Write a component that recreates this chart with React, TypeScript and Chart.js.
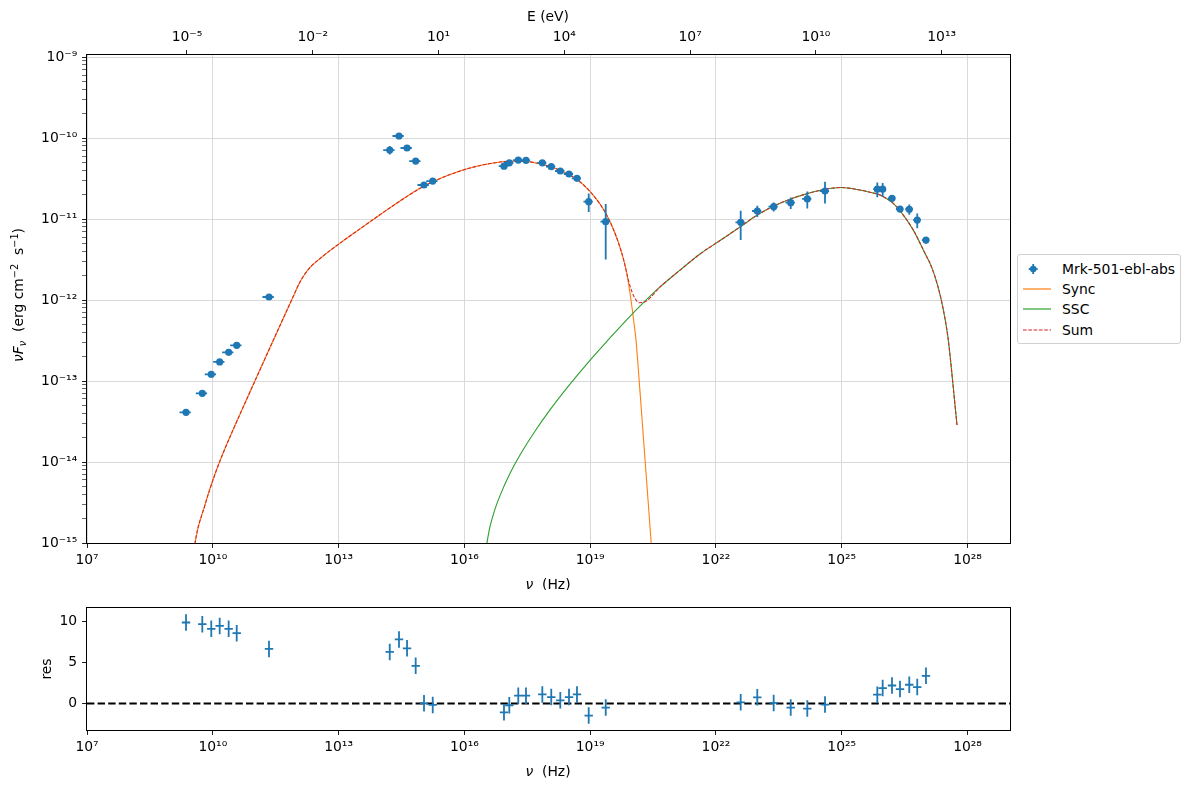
import React, { useEffect, useRef } from "react";
import { Chart, registerables } from "chart.js";
Chart.register(...registerables);

// ---------------- data ----------------
const H_EV = 4.135667696e-15; // eV s
const X_MIN = 1e7;
const X_MAX = 1.03e29;
const Y_MIN = 1e-15;
const Y_MAX = 1.06e-9;
const RES_MIN = -3.2;
const RES_MAX = 11.6;

const xTickValues = [1e7, 1e10, 1e13, 1e16, 1e19, 1e22, 1e25, 1e28];
const eTickValues = [1e-5, 1e-2, 1e1, 1e4, 1e7, 1e10, 1e13];
const yDecadeExps = [-15, -14, -13, -12, -11, -10, -9];
const yMinorMultipliers = [2, 3, 4, 5, 6, 7, 8, 9];
const resTickValues = [0, 5, 10];

const nuData = [
  2.3e9, 5.62e9, 9.2e9, 1.46e10, 2.39e10, 3.72e10, 2.19e11,
  1.66e14, 2.76e14, 4.29e14, 6.9e14, 1.09e15, 1.76e15,
  8.81e16, 1.18e17, 1.93e17, 2.95e17, 7.23e17, 1.18e18, 1.94e18, 3.13e18, 4.85e18, 9.23e18, 2.35e19,
  3.89e22, 9.68e22, 2.38e23, 6.07e23, 1.51e24, 3.99e24,
  7.05e25, 9.46e25, 1.58e26, 2.45e26, 4.08e26, 6.32e26, 1.02e27,
];
const fluxData = [
  4.11e-14, 7.05e-14, 1.21e-13, 1.72e-13, 2.26e-13, 2.76e-13, 1.09e-12,
  7.1e-11, 1.06e-10, 7.53e-11, 5.2e-11, 2.63e-11, 2.94e-11,
  4.5e-11, 4.95e-11, 5.35e-11, 5.3e-11, 4.95e-11, 4.43e-11, 3.92e-11, 3.6e-11, 3.18e-11, 1.64e-11, 9.27e-12,
  9.1e-12, 1.256e-11, 1.42e-11, 1.59e-11, 1.77e-11, 2.22e-11,
  2.34e-11, 2.34e-11, 1.8e-11, 1.33e-11, 1.32e-11, 9.7e-12, 5.5e-12,
];
const fluxErr = [
  8e-16, 1.4e-15, 2.4e-15, 3.4e-15, 4.5e-15, 5.5e-15, 2.2e-14,
  8.5e-12, 9e-12, 4e-12, 2.5e-12, 1e-12, 1e-12,
  1.8e-12, 2e-12, 2.1e-12, 2e-12, 1.5e-12, 1.3e-12, 1.2e-12, 1.1e-12, 1.3e-12, 4.2e-12, 6.1e-12,
  3.6e-12, 2e-12, 1.8e-12, 2.6e-12, 4.2e-12, 6.7e-12,
  4.8e-12, 4.5e-12, 1.5e-12, 1.2e-12, 1.9e-12, 2e-12, 5e-13,
];
const nuErr = [
  6.9e8, 1.69e9, 2.76e9, 4.38e9, 7.17e9, 1.12e10, 6.57e10,
  5e13, 8.3e13, 1.29e14, 2.07e14, 3.27e14, 5.28e14,
  2.2e16, 2.95e16, 4.8e16, 7.4e16, 1.8e17, 2.95e17, 4.85e17, 7.8e17, 1.21e18, 2.3e18, 5.9e18,
  9.7e21, 2.42e22, 5.95e22, 1.52e23, 3.78e23, 1e24,
  1.41e25, 1.89e25, 3.16e25, 4.9e25, 8.2e25, 1.26e26, 2.04e26,
];
const residuals = [
  9.84, 9.64, 9.07, 9.43, 9.07, 8.55, 6.63,
  6.27, 7.79, 6.71, 4.58, 0.04, -0.16,
  -1.05, -0.2, 0.96, 0.96, 1.12, 0.8, 0.4, 0.8, 1.12, -1.45, -0.48,
  0.16, 0.76, 0.08, -0.48, -0.6, -0.12,
  1.08, 1.89, 2.2, 1.77, 2.29, 2.01, 3.37,
];
const RES_ERR = 1;

const syncNu = [
  3.19e9, 3.77e9, 6.5e9, 1.13e10, 1.85e10, 3.03e10, 1.2e11, 8.18e11, 1.2e12, 1.67e12,
  2.32e12, 3.6e12, 6.24e12, 1.42e13, 3.24e13, 9.72e13, 2.92e14, 1.09e15, 4.54e15, 1.36e16,
  4.08e16, 1.22e17, 2.79e17, 9.19e17, 2.13e18, 4.85e18, 9.9e18, 1.72e19, 2.48e19, 3.52e19,
  5.16e19, 7.45e19, 9.42e19, 1.11e20, 1.24e20, 1.46e20, 1.72e20, 2.03e20, 2.4e20, 2.83e20,
  3.16e20,
];
const syncFlux = [
  4.6e-16, 1e-15, 2.94e-15, 7.1e-15, 1.37e-14, 2.48e-14, 1.22e-13, 1.09e-12, 1.67e-12, 2.19e-12,
  2.67e-12, 3.25e-12, 4.08e-12, 5.58e-12, 7.57e-12, 1.13e-11, 1.67e-11, 2.55e-11, 3.54e-11, 4.27e-11,
  4.84e-11, 5.16e-11, 5.14e-11, 4.57e-11, 3.9e-11, 3.09e-11, 2.19e-11, 1.53e-11, 1.12e-11, 7.63e-12,
  4.45e-12, 2.15e-12, 1e-12, 5.2e-13, 3.2e-13, 1.09e-13, 3.49e-14, 1.09e-14, 3.4e-15, 1.06e-15,
  4.9e-16,
];
const sscNu = [
  3.28e16, 4.08e16, 5.37e16, 7.08e16, 1.22e17, 2.12e17, 4.83e17, 1.1e18, 2.51e18, 5.72e18,
  1.3e19, 2.66e19, 6.78e19, 1.63e20, 4.64e20, 1.39e21, 4.17e21, 1.25e22, 3.89e22, 9.68e22,
  2.38e23, 6.07e23, 1.51e24, 3.99e24, 9.6e24, 2.72e25, 4.72e25, 8.17e25, 1.69e26, 2.94e26,
  5.09e26, 9.68e26, 1.42e27, 1.98e27, 2.6e27, 3.43e27, 4.04e27, 4.76e27, 5.61e27,
];
const sscFlux = [
  8.7e-16, 1.59e-15, 2.62e-15, 3.85e-15, 7.2e-15, 1.22e-14, 2.4e-14, 4.4e-14, 7.67e-14, 1.29e-13,
  2.12e-13, 3.2e-13, 5.43e-13, 8.67e-13, 1.45e-12, 2.34e-12, 3.7e-12, 5.43e-12, 8.07e-12, 1.12e-11,
  1.445e-11, 1.77e-11, 2.06e-11, 2.33e-11, 2.45e-11, 2.28e-11, 2.14e-11, 1.98e-11, 1.56e-11, 1.12e-11,
  7.3e-12, 3.77e-12, 2.48e-12, 1.45e-12, 7.96e-13, 3.4e-13, 1.58e-13, 6.7e-14, 2.86e-14,
];
// Sum: follows Sync, then the transition dip, then SSC
const sumDipNu = [6.41e19, 8.13e19, 9.95e19, 1.17e20, 1.49e20, 2.03e20];
const sumDipFlux = [3.03e-12, 1.77e-12, 1.26e-12, 1.05e-12, 9.27e-13, 9.5e-13];
const SUM_SYNC_COUNT = 31; // Sync points up to 5.16e19 Hz
const SUM_SSC_START = 14; // SSC points from 4.64e20 Hz

// ---------------- styles ----------------
const FONT = "'DejaVu Sans', sans-serif";
const FS = 13.9;
const BLUE = "#1f77b4";
const ORANGE = "#ff7f0e";
const GREEN = "#2ca02c";
const RED = "#d62728";
const GRID = "#d9d9d9";

const SUP: Record<string, string> = {
  "-": "⁻", "0": "⁰", "1": "¹", "2": "²", "3": "³", "4": "⁴",
  "5": "⁵", "6": "⁶", "7": "⁷", "8": "⁸", "9": "⁹",
};
const pow10Label = (v: number) =>
  "10" + String(Math.round(Math.log10(v))).split("").map((c) => SUP[c]).join("");
const isDecade = (v: number) => Math.abs(Math.log10(v) - Math.round(Math.log10(v))) < 1e-6;

const pts = (xs: number[], ys: number[]) => xs.map((x, i) => ({ x, y: ys[i] }));

type Part = { t: string; it?: boolean; sub?: boolean; sup?: boolean };
function drawRich(ctx: CanvasRenderingContext2D, parts: Part[], cx: number, cy: number, rotate: boolean) {
  const fontOf = (p: Part) =>
    `${p.it ? "italic " : ""}${p.sub || p.sup ? FS * 0.7 : FS}px ${FONT}`;
  let total = 0;
  const widths = parts.map((p) => {
    ctx.font = fontOf(p);
    const w = ctx.measureText(p.t).width;
    total += w;
    return w;
  });
  ctx.save();
  ctx.translate(cx, cy);
  if (rotate) ctx.rotate(-Math.PI / 2);
  ctx.fillStyle = "#000";
  ctx.textBaseline = "alphabetic";
  ctx.textAlign = "left";
  let x = -total / 2;
  parts.forEach((p, i) => {
    ctx.font = fontOf(p);
    const dy = p.sub ? 3 : p.sup ? -5.5 : 0;
    ctx.fillText(p.t, x, 5 + dy);
    x += widths[i];
  });
  ctx.restore();
}

const errorBarPlugin = {
  id: "errorBars",
  beforeDatasetDraw(chart: any, args: any) {
    const ds = chart.data.datasets[args.index];
    if (ds.errY == null && ds.errX == null) return;
    const xs = chart.scales.x;
    const ys = chart.scales.y;
    const a = chart.chartArea;
    const ctx = chart.ctx;
    ctx.save();
    ctx.beginPath();
    ctx.rect(a.left, a.top, a.right - a.left, a.bottom - a.top);
    ctx.clip();
    ctx.strokeStyle = BLUE;
    ctx.lineWidth = 1.8;
    ds.data.forEach((p: any, i: number) => {
      const px = xs.getPixelForValue(p.x);
      const py = ys.getPixelForValue(p.y);
      ctx.beginPath();
      if (ds.errY != null) {
        const e = Array.isArray(ds.errY) ? ds.errY[i] : ds.errY;
        const lo = p.y - e;
        const yTop = ys.getPixelForValue(p.y + e);
        const yBot = ys.type === "logarithmic" && lo <= 0 ? a.bottom + 5 : ys.getPixelForValue(lo);
        ctx.moveTo(px, yTop);
        ctx.lineTo(px, yBot);
      }
      if (ds.errX != null) {
        const e = ds.errX[i];
        ctx.moveTo(xs.getPixelForValue(p.x - e), py);
        ctx.lineTo(xs.getPixelForValue(p.x + e), py);
      }
      if (ds.crossPx) {
        ctx.moveTo(px - ds.crossPx, py);
        ctx.lineTo(px + ds.crossPx, py);
      }
      ctx.stroke();
    });
    ctx.restore();
  },
};

const framePlugin = {
  id: "frame",
  afterDraw(chart: any) {
    const a = chart.chartArea;
    const ctx = chart.ctx;
    ctx.save();
    ctx.strokeStyle = "#000";
    ctx.lineWidth = 1;
    ctx.strokeRect(Math.round(a.left) - 0.5, Math.round(a.top) - 0.5, Math.round(a.right - a.left) + 1, Math.round(a.bottom - a.top) + 1);
    ctx.restore();
  },
};

const tickFont = { family: FONT, size: FS };

function logXScale(position: string, min: number, max: number, ticks: number[], fitSize: number, gridOnArea: boolean) {
  return {
    type: "logarithmic",
    position,
    min,
    max,
    afterBuildTicks: (s: any) => {
      s.ticks = ticks.map((v) => ({ value: v }));
    },
    afterFit: (s: any) => {
      s.height = fitSize;
    },
    ticks: {
      callback: (v: any) => pow10Label(Number(v)),
      autoSkip: false,
      maxRotation: 0,
      minRotation: 0,
      font: tickFont,
      color: "#000",
      padding: 4,
    },
    grid: {
      color: GRID,
      lineWidth: 1,
      tickColor: "#000",
      tickLength: 4.9,
      tickWidth: 0.9,
      drawOnChartArea: gridOnArea,
    },
    border: { display: false },
  };
}

export default function App() {
  const mainRef = useRef<HTMLCanvasElement>(null);
  const resRef = useRef<HTMLCanvasElement>(null);

  useEffect(() => {
    const yTicks: number[] = [];
    yDecadeExps.forEach((e) => {
      yTicks.push(Math.pow(10, e));
      if (e < -9) yMinorMultipliers.forEach((m) => yTicks.push(m * Math.pow(10, e)));
    });

    const sumNu = [...syncNu.slice(0, SUM_SYNC_COUNT), ...sumDipNu, ...sscNu.slice(SUM_SSC_START)];
    const sumFlux = [...syncFlux.slice(0, SUM_SYNC_COUNT), ...sumDipFlux, ...sscFlux.slice(SUM_SSC_START)];

    const mainText = {
      id: "mainText",
      afterDraw(chart: any) {
        const ctx = chart.ctx;
        drawRich(ctx, [{ t: "E (eV)" }], 548, 16, false);
        drawRich(ctx, [{ t: "ν", it: true }, { t: "  (Hz)" }], 548, 584, false);
        drawRich(
          ctx,
          [
            { t: "νF", it: true },
            { t: "ν", it: true, sub: true },
            { t: "  (erg cm" },
            { t: "−2", sup: true },
            { t: "  s" },
            { t: "−1", sup: true },
            { t: ")" },
          ],
          18,
          295,
          true
        );
      },
    };

    const mainChart = new Chart(mainRef.current as HTMLCanvasElement, {
      type: "scatter",
      data: {
        datasets: [
          {
            label: "Mrk-501-ebl-abs",
            data: pts(nuData, fluxData),
            errY: fluxErr,
            errX: nuErr,
            pointRadius: 3.6,
            pointBackgroundColor: BLUE,
            pointBorderWidth: 0,
            showLine: false,
            order: 0,
          } as any,
          {
            label: "Sync",
            data: pts(syncNu, syncFlux),
            showLine: true,
            borderColor: ORANGE,
            borderWidth: 1.1,
            pointRadius: 0,
            cubicInterpolationMode: "monotone",
            order: 3,
          },
          {
            label: "SSC",
            data: pts(sscNu, sscFlux),
            showLine: true,
            borderColor: GREEN,
            borderWidth: 1.1,
            pointRadius: 0,
            cubicInterpolationMode: "monotone",
            order: 2,
          },
          {
            label: "Sum",
            data: pts(sumNu, sumFlux),
            showLine: true,
            borderColor: RED,
            borderWidth: 1.1,
            borderDash: [3.7, 1.6],
            pointRadius: 0,
            cubicInterpolationMode: "monotone",
            order: 1,
          },
        ],
      },
      options: {
        animation: false,
        responsive: false,
        devicePixelRatio: 1,
        layout: { padding: { left: 0, right: 180, top: 0, bottom: 0 } },
        plugins: { legend: { display: false }, tooltip: { enabled: false } },
        scales: {
          x: logXScale("bottom", X_MIN, X_MAX, xTickValues, 47, true) as any,
          x2: logXScale("top", X_MIN * H_EV, X_MAX * H_EV, eTickValues, 55, false) as any,
          y: {
            type: "logarithmic",
            position: "left",
            min: Y_MIN,
            max: Y_MAX,
            afterBuildTicks: (s: any) => {
              s.ticks = yTicks.map((v) => ({ value: v }));
            },
            afterFit: (s: any) => {
              s.width = 87;
            },
            ticks: {
              callback: (v: any) => (isDecade(Number(v)) ? pow10Label(Number(v)) : ""),
              autoSkip: false,
              font: tickFont,
              color: "#000",
              padding: 4.9,
            },
            grid: {
              color: (c: any) => (c.tick && isDecade(c.tick.value) ? GRID : "rgba(0,0,0,0)"),
              lineWidth: 1,
              tickColor: "#000",
              tickLength: 4.9,
              tickWidth: (c: any) => (c.tick && isDecade(c.tick.value) ? 0.9 : 0.6),
            },
            border: { display: false },
          } as any,
        },
      },
      plugins: [errorBarPlugin, framePlugin, mainText],
    } as any);

    const resText = {
      id: "resText",
      afterDraw(chart: any) {
        const ctx = chart.ctx;
        drawRich(ctx, [{ t: "ν", it: true }, { t: "  (Hz)" }], 548, 181, false);
        drawRich(ctx, [{ t: "res" }], 46, 79, true);
      },
    };

    const resChart = new Chart(resRef.current as HTMLCanvasElement, {
      type: "scatter",
      data: {
        datasets: [
          {
            label: "res",
            data: pts(nuData, residuals),
            errY: RES_ERR,
            crossPx: 4.2,
            pointRadius: 0,
            showLine: false,
            order: 0,
          } as any,
          {
            label: "zero",
            data: [
              { x: X_MIN, y: 0 },
              { x: X_MAX, y: 0 },
            ],
            showLine: true,
            borderColor: "#000",
            borderWidth: 2,
            borderDash: [7.4, 3.2],
            pointRadius: 0,
            order: 1,
          },
        ],
      },
      options: {
        animation: false,
        responsive: false,
        devicePixelRatio: 1,
        layout: { padding: { left: 0, right: 180, top: 18, bottom: 0 } },
        plugins: { legend: { display: false }, tooltip: { enabled: false } },
        scales: {
          x: logXScale("bottom", X_MIN, X_MAX, xTickValues, 60, false) as any,
          y: {
            type: "linear",
            position: "left",
            min: RES_MIN,
            max: RES_MAX,
            afterBuildTicks: (s: any) => {
              s.ticks = resTickValues.map((v) => ({ value: v }));
            },
            afterFit: (s: any) => {
              s.width = 87;
            },
            ticks: { font: tickFont, color: "#000", padding: 4.9, callback: (v: any) => String(v) },
            grid: { drawOnChartArea: false, tickColor: "#000", tickLength: 4.9, tickWidth: 0.9 },
            border: { display: false },
          } as any,
        },
      },
      plugins: [errorBarPlugin, framePlugin, resText],
    } as any);

    return () => {
      mainChart.destroy();
      resChart.destroy();
    };
  }, []);

  const legendRow = (top: number, swatch: React.ReactNode, label: string) => (
    <div style={{ position: "absolute", left: 0, top: top - 10, height: 20, width: 164 }}>
      <svg width={40} height={20} style={{ position: "absolute", left: 0, top: 0 }}>
        {swatch}
      </svg>
      <span
        style={{
          position: "absolute",
          left: 44,
          top: 0,
          lineHeight: "20px",
          fontFamily: FONT,
          fontSize: FS,
          color: "#000",
          whiteSpace: "nowrap",
        }}
      >
        {label}
      </span>
    </div>
  );

  return (
    <div style={{ position: "fixed", left: 0, top: 0, width: 1190, height: 790, background: "#fff" }}>
      <canvas ref={mainRef} width={1190} height={590} style={{ position: "absolute", left: 0, top: 0, width: 1190, height: 590 }} />
      <canvas ref={resRef} width={1190} height={200} style={{ position: "absolute", left: 0, top: 590, width: 1190, height: 200 }} />
      <div
        style={{
          position: "absolute",
          left: 1017,
          top: 254,
          width: 162,
          height: 88,
          border: "1px solid #d0d0d0",
          borderRadius: 3,
          background: "#fff",
        }}
      >
        <div style={{ position: "absolute", left: 0, top: 0, width: 162, height: 88 }}>
          {legendRow(
            13.7,
            <g>
              <line x1={10.7} y1={10} x2={19.7} y2={10} stroke={BLUE} strokeWidth={1.8} />
              <line x1={15.2} y1={5} x2={15.2} y2={15} stroke={BLUE} strokeWidth={1.8} />
              <circle cx={15.2} cy={10} r={3.3} fill={BLUE} />
            </g>,
            "Mrk-501-ebl-abs"
          )}
          {legendRow(34.3, <line x1={5} y1={10} x2={33} y2={10} stroke={ORANGE} strokeWidth={1.2} />, "Sync")}
          {legendRow(54.3, <line x1={5} y1={10} x2={33} y2={10} stroke={GREEN} strokeWidth={1.2} />, "SSC")}
          {legendRow(
            75,
            <line x1={5} y1={10} x2={33} y2={10} stroke={RED} strokeWidth={1.2} strokeDasharray="3.7 1.6" />,
            "Sum"
          )}
        </div>
      </div>
    </div>
  );
}
